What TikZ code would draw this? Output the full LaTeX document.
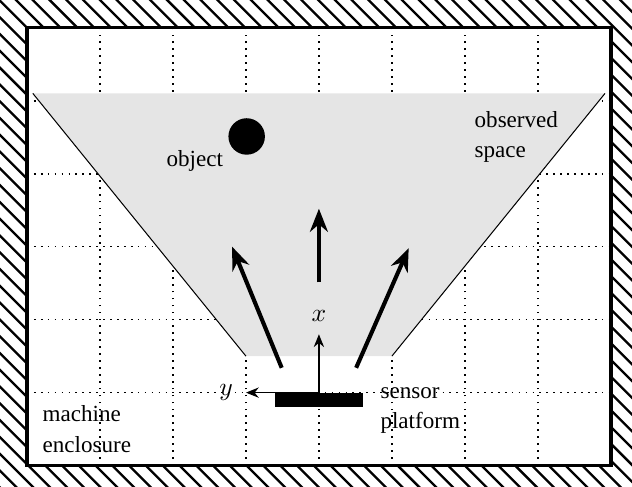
\documentclass[tikz,border=0pt]{standalone}
\usepackage{fontspec}
\setmainfont{Liberation Serif}
\usetikzlibrary{arrows.meta}
\begin{document}
\begin{tikzpicture}[
  lbl/.style={font=\fontsize{9}{11.8}\selectfont, align=left},
  move/.style={-{Stealth[length=9pt,width=7pt]}, line width=1.6pt},
  axis/.style={-{Stealth[length=5pt,width=4pt]}, semithick},
  hatch/.style={line width=0.9pt},
  griddots/.style={line width=0.65pt, dash pattern=on 0.65pt off 2.05pt},
]
  \useasboundingbox (-0.37,-0.29) rectangle (8.29,6.38);

  % wall of the enclosure
  \begin{scope}[even odd rule]
    \clip (-0.37,-0.29) rectangle (8.29,6.38) (0,0) rectangle (8,6);
    \foreach \i in {0,...,70}
      \draw[hatch] (-7.4+0.23*\i,6.5) -- ++(7.2,-7.2);
  \end{scope}

  \draw[griddots] (0,0) grid (8,6);

  % observed space
  \fill[gray!20] (3,1.5) -- (5,1.5) -- (7.92,5.1) -- (0.08,5.1) -- cycle;
  \draw (3,1.5) -- (0.08,5.1);
  \draw (5,1.5) -- (7.92,5.1);

  \draw[line width=1.3pt] (0,0) rectangle (8,6);

  \node[circle, fill, inner sep=0pt, minimum size=0.5cm] (obj) at (3.01,4.51) {};
  \node[lbl] (objlbl) at (2.3,4.18) {object};
  \node[lbl, anchor=west] (space) at (6.01,4.5) {observed\\space};

  % sensor platform and its frame
  \node[fill, inner sep=0pt, minimum width=1.2cm, minimum height=0.2cm] (plat) at (4,0.9) {};
  \node[lbl, anchor=west] (sens) at (4.72,0.75) {sensor\\platform};
  \node[lbl, anchor=west] (encl) at (0.09,0.5) {machine\\enclosure};

  \coordinate (o) at (4,1);
  \coordinate (xend) at (4,1.8);
  \coordinate (yend) at (3,1);
  \draw[axis] (o) -- (xend);
  \draw[axis] (o) -- (yend);
  \node (xl) at (4,2.05) {$x$};
  \node (yl) at (2.73,1) {$y$};

  % motion directions
  \coordinate (l0) at (3.49,1.34);
  \coordinate (l1) at (2.81,3.0);
  \coordinate (m0) at (4,2.51);
  \coordinate (m1) at (4,3.52);
  \coordinate (r0) at (4.51,1.34);
  \coordinate (r1) at (5.23,2.98);
  \draw[move] (l0) -- (l1);
  \draw[move] (m0) -- (m1);
  \draw[move] (r0) -- (r1);
\end{tikzpicture}
\end{document}
